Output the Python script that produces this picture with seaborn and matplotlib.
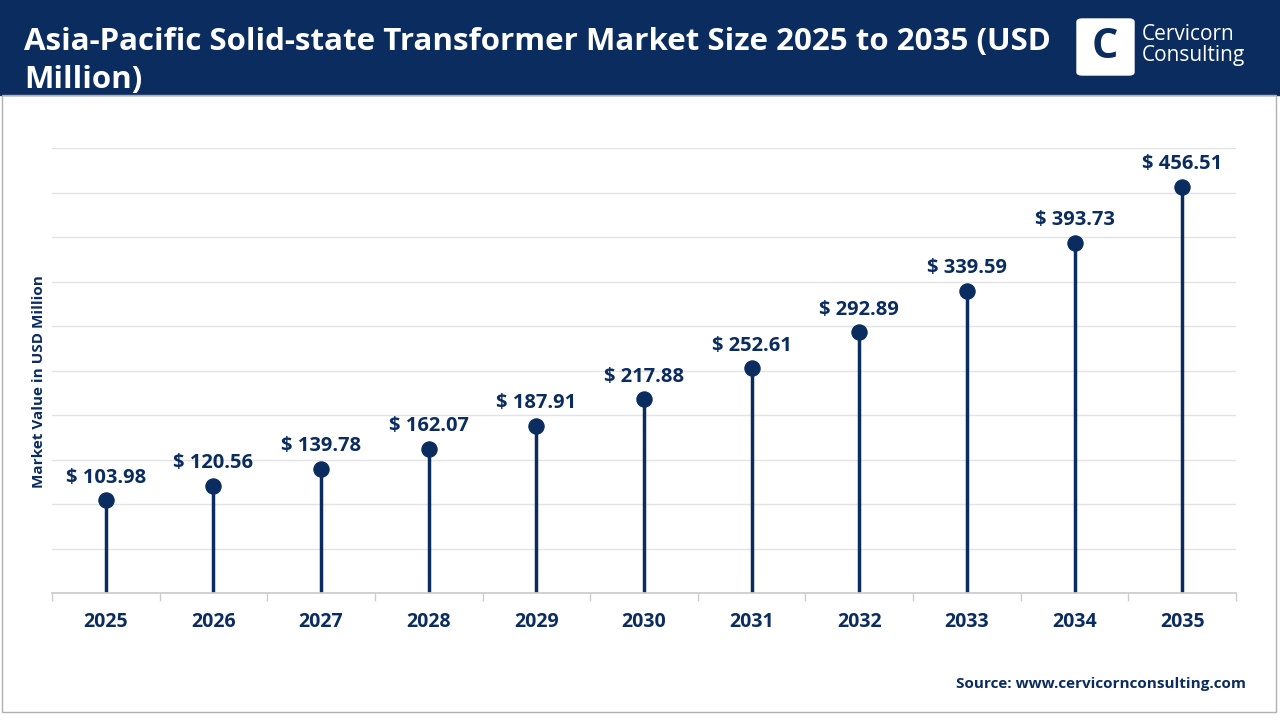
import matplotlib
matplotlib.use("Agg")
import matplotlib.pyplot as plt
import seaborn as sns
import pandas as pd
from matplotlib.patches import FancyBboxPatch, Rectangle

years = ["2025","2026","2027","2028","2029","2030","2031","2032","2033","2034","2035"]
values = [103.98,120.56,139.78,162.07,187.91,217.88,252.61,292.89,339.59,393.73,456.51]
df = pd.DataFrame({"year": years, "value": values})

sns.set_theme(style="white")
plt.rcParams['font.family'] = ['Open Sans', 'DejaVu Sans']
navy = "#0b2c5e"
fig = plt.figure(figsize=(12.8, 7.2), dpi=100)
fig.patch.set_facecolor("white")
fig.add_artist(Rectangle((0, 1-95/720), 1, 95/720, transform=fig.transFigure, color=navy, zorder=0))
fig.add_artist(Rectangle((2/1280, 8/720), 1274/1280, (720-95-8)/720, transform=fig.transFigure,
                         fill=False, ec="#b0b0b0", lw=1))
fig.text(24/1280, 1-42/720, "Asia-Pacific Solid-state Transformer Market Size 2025 to 2035 (USD",
         color="white", fontsize=22.5, fontweight="bold", va="center")
fig.text(24/1280, 1-80/720, "Million)", color="white", fontsize=22.5, fontweight="bold", va="center")
fig.add_artist(FancyBboxPatch((1077/1280, 1-75/720), 57/1280, 56/720, boxstyle="round,pad=0,rounding_size=0.004",
                              transform=fig.transFigure, color="white"))
fig.text(1105/1280, 1-48/720, "C", color=navy, fontsize=30, fontweight="bold", ha="center", va="center")
fig.text(1142/1280, 1-34/720, "Cervicorn", color="white", fontsize=15, va="center")
fig.text(1142/1280, 1-56/720, "Consulting", color="white", fontsize=15, va="center")

ax = fig.add_axes([52/1280, 127/720, 1184/1280, 445/720])
x = list(range(len(years)))
ax.vlines(x, 0, df["value"], color=navy, lw=2.5, zorder=2)
sns.scatterplot(data=df, x=x, y="value", color=navy, s=120, ax=ax, zorder=3, edgecolor=navy)
for xi, v in zip(x, values):
    ax.text(xi, v + 14, f"$ {v:.2f}", ha="center", va="bottom", color=navy, fontsize=14.5, fontweight="bold")
ax.set_xlim(-0.5, len(years) - 0.5)
ax.set_ylim(0, 500)
ax.set_yticks(range(0, 501, 50))
ax.set_yticklabels([])
ax.tick_params(axis="y", length=0)
ax.grid(axis="y", color="#e3e3e3", lw=1)
ax.set_axisbelow(True)
ax.set_xticks(x)
ax.set_xticklabels(years, fontsize=14, fontweight="bold", color=navy)
ax.set_xticks([i - 0.5 for i in range(len(years) + 1)], minor=True)
ax.tick_params(axis="x", which="major", length=0, pad=14)
ax.tick_params(axis="x", which="minor", length=6, color="#cccccc", direction="out", bottom=True)
for s in ["top", "right", "left"]:
    ax.spines[s].set_visible(False)
ax.spines["bottom"].set_color("#cccccc")
ax.set_xlabel("")
ax.set_ylabel("Market Value in USD Million", color=navy, fontsize=11, fontweight="bold")
ax.yaxis.set_label_coords(-0.005, 0.476)
fig.text(1246/1280, 1-684/720, "Source: www.cervicornconsulting.com", color=navy, fontsize=11,
         fontweight="bold", ha="right", va="center")
fig.savefig("out.png", dpi=100)
